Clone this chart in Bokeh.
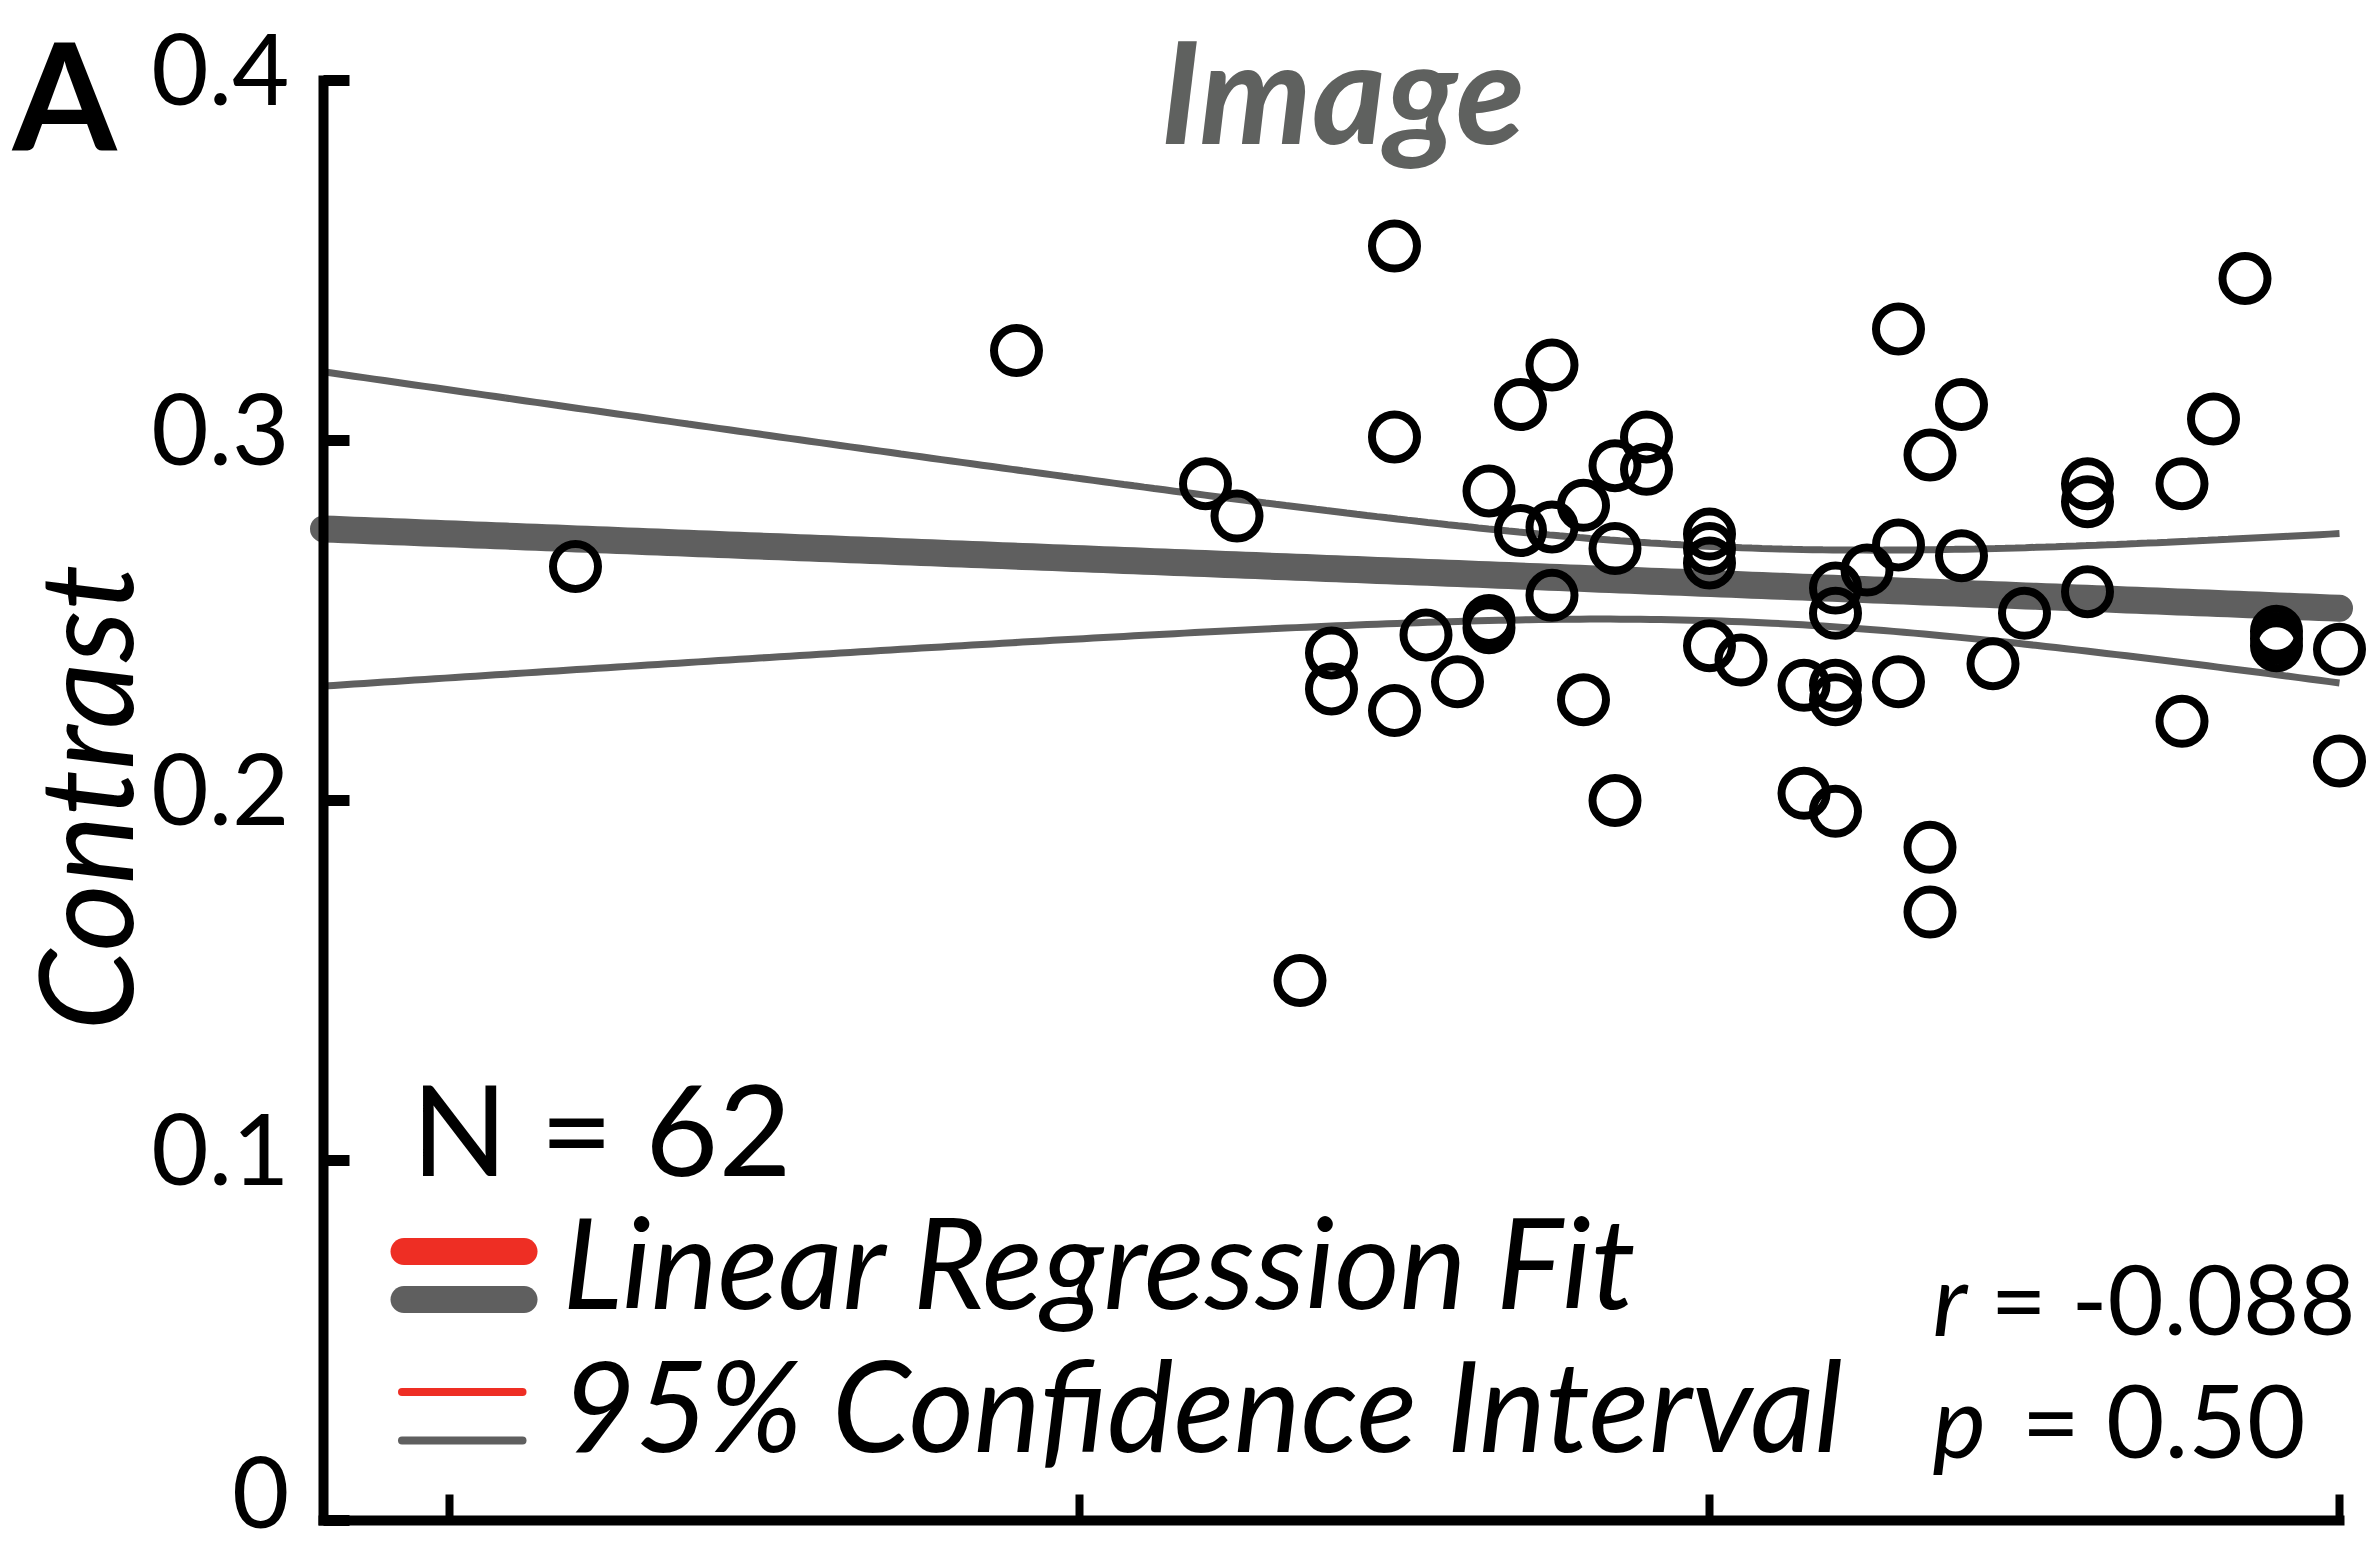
import numpy as np
from bokeh.plotting import figure
from bokeh.models import Range1d, FixedTicker, Label, CustomJSTickFormatter, LinearAxis
from bokeh.embed import file_html
from bokeh.resources import INLINE

# ---------------- data ----------------
x_vals = [0.20, 0.90, 1.20, 1.25, 1.35, 1.40, 1.40, 1.50, 1.50, 1.50,
          1.55, 1.60, 1.65, 1.65, 1.65, 1.70, 1.70, 1.75, 1.75, 1.75,
          1.80, 1.80, 1.85, 1.85, 1.85, 1.90, 1.90, 2.00, 2.00, 2.00,
          2.00, 2.05, 2.15, 2.15, 2.20, 2.20, 2.20, 2.20, 2.20, 2.25,
          2.30, 2.30, 2.30, 2.35, 2.35, 2.35, 2.40, 2.40, 2.45, 2.50,
          2.60, 2.60, 2.60, 2.75, 2.75, 2.80, 2.85, 2.90, 2.90, 2.90,
          3.00, 3.00]
contrast = [0.265, 0.325, 0.288, 0.279, 0.150, 0.241, 0.231, 0.354, 0.301, 0.225,
            0.246, 0.233, 0.286, 0.250, 0.248, 0.310, 0.275, 0.321, 0.276, 0.257,
            0.282, 0.228, 0.293, 0.270, 0.200, 0.301, 0.292, 0.274, 0.270, 0.266,
            0.243, 0.239, 0.232, 0.202, 0.259, 0.252, 0.232, 0.228, 0.197, 0.264,
            0.331, 0.271, 0.233, 0.296, 0.187, 0.169, 0.310, 0.268, 0.238, 0.252,
            0.288, 0.283, 0.258, 0.288, 0.222, 0.306, 0.345, 0.247, 0.245, 0.243,
            0.242, 0.211]

y_ticks = [0, 0.1, 0.2, 0.3, 0.4]
y_tick_labels = ["0", "0.1", "0.2", "0.3", "0.4"]
x_ticks = [0, 1, 2, 3]
x_lo, x_hi = -0.2, 3.0
y_lo, y_hi = 0.0, 0.4

panel_label = "A"
title_text = "Image"
y_label = "Contrast"
n_text = "N = 62"
r_text = "= -0.088"
p_text = "= 0.50"
legend_labels = ["Linear Regression Fit", "95% Confidence Interval"]

RED = "#ee2e24"
GRAY = "#5f5f5f"
FONT = "Lato"

# ---------------- regression + 95% CI ----------------
xa = np.array(x_vals)
ya = np.array(contrast)
n = len(xa)
slope, intercept = np.polyfit(xa, ya, 1)
resid = ya - (slope * xa + intercept)
s = np.sqrt(np.sum(resid ** 2) / (n - 2))
xbar = xa.mean()
sxx = np.sum((xa - xbar) ** 2)
t_crit = 2.0003  # t(0.975, 60)
xs = np.linspace(x_lo, x_hi, 200)
fit = slope * xs + intercept
half = t_crit * s * np.sqrt(1.0 / n + (xs - xbar) ** 2 / sxx)

# ---------------- figure (frame spans the whole canvas, axes fixed) ----------------
p = figure(width=2370, height=1552,
           x_range=Range1d(-0.71270, 3.04921), y_range=Range1d(-0.008889, 0.42222),
           output_backend="svg", toolbar_location=None,
           min_border_left=0, min_border_right=0, min_border_top=0, min_border_bottom=0)
p.grid.visible = False
p.outline_line_color = None
p.background_fill_color = "white"
p.border_fill_color = "white"

# y axis: line + ticks
ya_ax = p.yaxis[0]
ya_ax.fixed_location = x_lo
ya_ax.ticker = FixedTicker(ticks=y_ticks)
ya_ax.formatter = CustomJSTickFormatter(code="return '';")
ya_ax.bounds = (y_lo, y_hi)
ya_ax.axis_line_width = 10
ya_ax.axis_line_cap = "square"
ya_ax.major_tick_line_width = 11
ya_ax.major_tick_in = 26
ya_ax.major_tick_out = 0
ya_ax.minor_tick_line_color = None

# y axis tick labels, set slightly above their ticks as in the figure
# (the bottom one a little more so that it stays inside the page)
label_lift = [0.008, 0.00306, 0.00306, 0.00306, 0.00306]
lab_axis = LinearAxis(fixed_location=x_lo,
                      ticker=FixedTicker(ticks=[t + d for t, d in zip(y_ticks, label_lift)]),
                      formatter=CustomJSTickFormatter(args=dict(labels=y_tick_labels),
                                                      code="return labels[index];"),
                      axis_line_color=None, major_tick_line_color=None,
                      minor_tick_line_color=None,
                      major_tick_in=0, major_tick_out=0,
                      major_label_text_font=FONT, major_label_text_font_size="99px",
                      major_label_text_color="black", major_label_standoff=34)
p.add_layout(lab_axis, "left")

# x axis
xa_ax = p.xaxis[0]
xa_ax.fixed_location = y_lo
xa_ax.ticker = FixedTicker(ticks=x_ticks)
xa_ax.formatter = CustomJSTickFormatter(code="return '';")
xa_ax.bounds = (x_lo, x_hi)
xa_ax.axis_line_width = 10
xa_ax.axis_line_cap = "square"
xa_ax.major_tick_line_width = 8
xa_ax.major_tick_in = 26
xa_ax.major_tick_out = 0
xa_ax.minor_tick_line_color = None

# CI + fit
p.line(xs, fit + half, line_color=GRAY, line_width=7)
p.line(xs, fit - half, line_color=GRAY, line_width=7)
p.line(xs, fit, line_color=GRAY, line_width=27, line_cap="round")

# data points
p.scatter(x_vals, contrast, marker="circle", size=45, fill_color=None,
          line_color="black", line_width=8)

# legend swatches
p.segment(x0=[-0.0722, -0.0722], y0=[0.0747, 0.0614], x1=[0.1183, 0.1183], y1=[0.0747, 0.0614],
          line_color=[RED, GRAY], line_width=27, line_cap="round")
p.segment(x0=[-0.0754, -0.0754], y0=[0.0357, 0.0222], x1=[0.1159, 0.1159], y1=[0.0357, 0.0222],
          line_color=[RED, GRAY], line_width=8, line_cap="round")


def lab(text, x, y, size, style="normal", align="left", color="black", angle=0.0):
    p.add_layout(Label(x=x, y=y, text=text, text_font=FONT, text_font_size=f"{size}px",
                       text_font_style=style, text_align=align, text_baseline="middle",
                       text_color=color, angle=angle))


lab(panel_label, -0.69365, 0.39639, 150, style="bold")
lab(title_text, 1.4175, 0.39750, 142, style="bold italic", align="center", color="#5f615f")
lab(y_label, -0.58143, 0.2008, 130, style="italic", align="center", angle=np.pi / 2)
lab(n_text, -0.0603, 0.10911, 126)
lab(legend_labels[0], 0.1794, 0.07217, 126, style="italic")
lab(legend_labels[1], 0.1794, 0.03244, 126, style="italic")
lab("r", 2.354, 0.06197, 101, style="italic")
lab(r_text, 3.0254, 0.06197, 97, align="right")
lab("p", 2.354, 0.02808, 101, style="italic")
lab(p_text, 2.946, 0.02808, 101, align="right")

open("out.html", "w").write(file_html(p, INLINE))
